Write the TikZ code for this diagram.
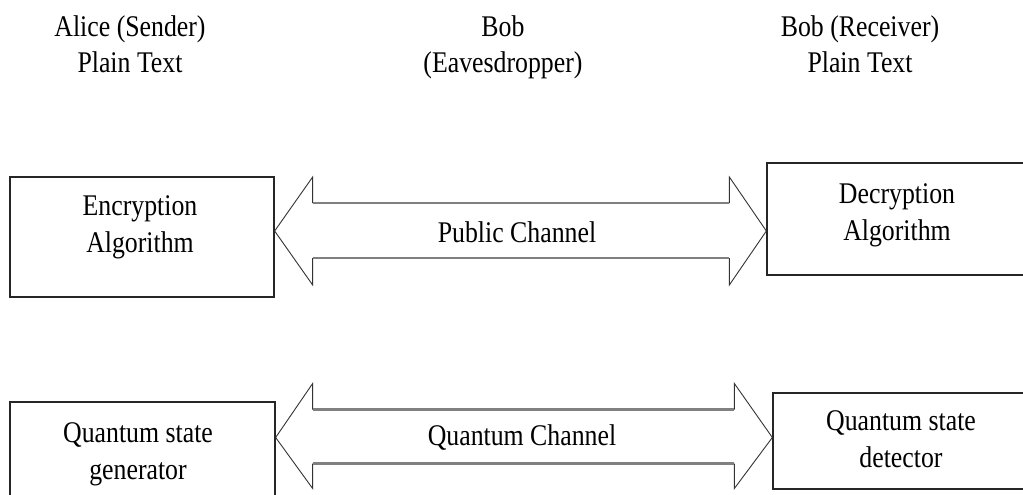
\documentclass[tikz,border=0pt]{standalone}
\usepackage{fontspec}
\setmainfont{Liberation Serif}[FakeStretch=0.86]
\usetikzlibrary{calc}
\begin{document}
\begin{tikzpicture}[x=1pt,y=-1pt,
  box/.style={draw=black!85, line width=1.3pt, inner sep=0pt, rectangle},
  lbl/.style={anchor=base, align=center, inner sep=0pt, font=\fontsize{30}{36.5}\selectfont},
  headline/.style={draw=black!80, line width=0.9pt, line join=miter},
  shaft/.style={draw=black!50, line width=2.2pt}]
\useasboundingbox (0,0) rectangle (1023,495);
% header texts (anchor = baseline of last line)
\node[lbl] (alice) at (130,73) {Alice (Sender)\\Plain Text};
\node[lbl] (eve) at (503,73) {Bob\\(Eavesdropper)};
\node[lbl] (bobr) at (860,73) {Bob (Receiver)\\Plain Text};
% boxes
\node[box, minimum width=264pt, minimum height=120pt] (enc) at (142,237) {};
\node[box, minimum width=264pt, minimum height=112pt] (dec) at (899,219) {};
\node[box, minimum width=265pt, minimum height=110pt] (gen) at (142.5,457) {};
\node[box, minimum width=258pt, minimum height=96pt] (det) at (902,441) {};
% box texts
\node[lbl] (enct) at (140,252) {Encryption\\Algorithm};
\node[lbl] (dect) at (897,240) {Decryption\\Algorithm};
\node[lbl] (gent) at (138,479) {Quantum state\\generator};
\node[lbl] (dett) at (901,467) {Quantum state\\detector};
% arrow 1
\coordinate (ya) at (0,231);
\coordinate (aL) at (enc.east |- ya);
\coordinate (aR) at (dec.west |- ya);
\draw[headline] ($(aL)+(38,-28)$) -- ($(aL)+(38,-54)$) -- (aL) -- ($(aL)+(38,54)$) -- ($(aL)+(38,27)$);
\draw[headline] ($(aR)+(-37,-28)$) -- ($(aR)+(-37,-54)$) -- (aR) -- ($(aR)+(-37,54)$) -- ($(aR)+(-37,27)$);
\draw[shaft] ($(aL)+(38,-28)$) -- ($(aR)+(-37,-28)$);
\draw[shaft] ($(aL)+(38,27)$) -- ($(aR)+(-37,27)$);
\node[lbl] (pub) at (517,242) {Public Channel};
% arrow 2
\coordinate (yb) at (0,437.5);
\coordinate (bL) at (gen.east |- yb);
\coordinate (bR) at (det.west |- yb);
\draw[headline] ($(bL)+(37,-28)$) -- ($(bL)+(37,-54)$) -- (bL) -- ($(bL)+(37,51)$) -- ($(bL)+(37,26)$);
\draw[headline] ($(bR)+(-38,-28)$) -- ($(bR)+(-38,-54)$) -- (bR) -- ($(bR)+(-38,51)$) -- ($(bR)+(-38,26)$);
\draw[shaft] ($(bL)+(37,-28)$) -- ($(bR)+(-38,-28)$);
\draw[shaft] ($(bL)+(37,26)$) -- ($(bR)+(-38,26)$);
\node[lbl] (qch) at (522,445) {Quantum Channel};
\end{tikzpicture}
\end{document}
